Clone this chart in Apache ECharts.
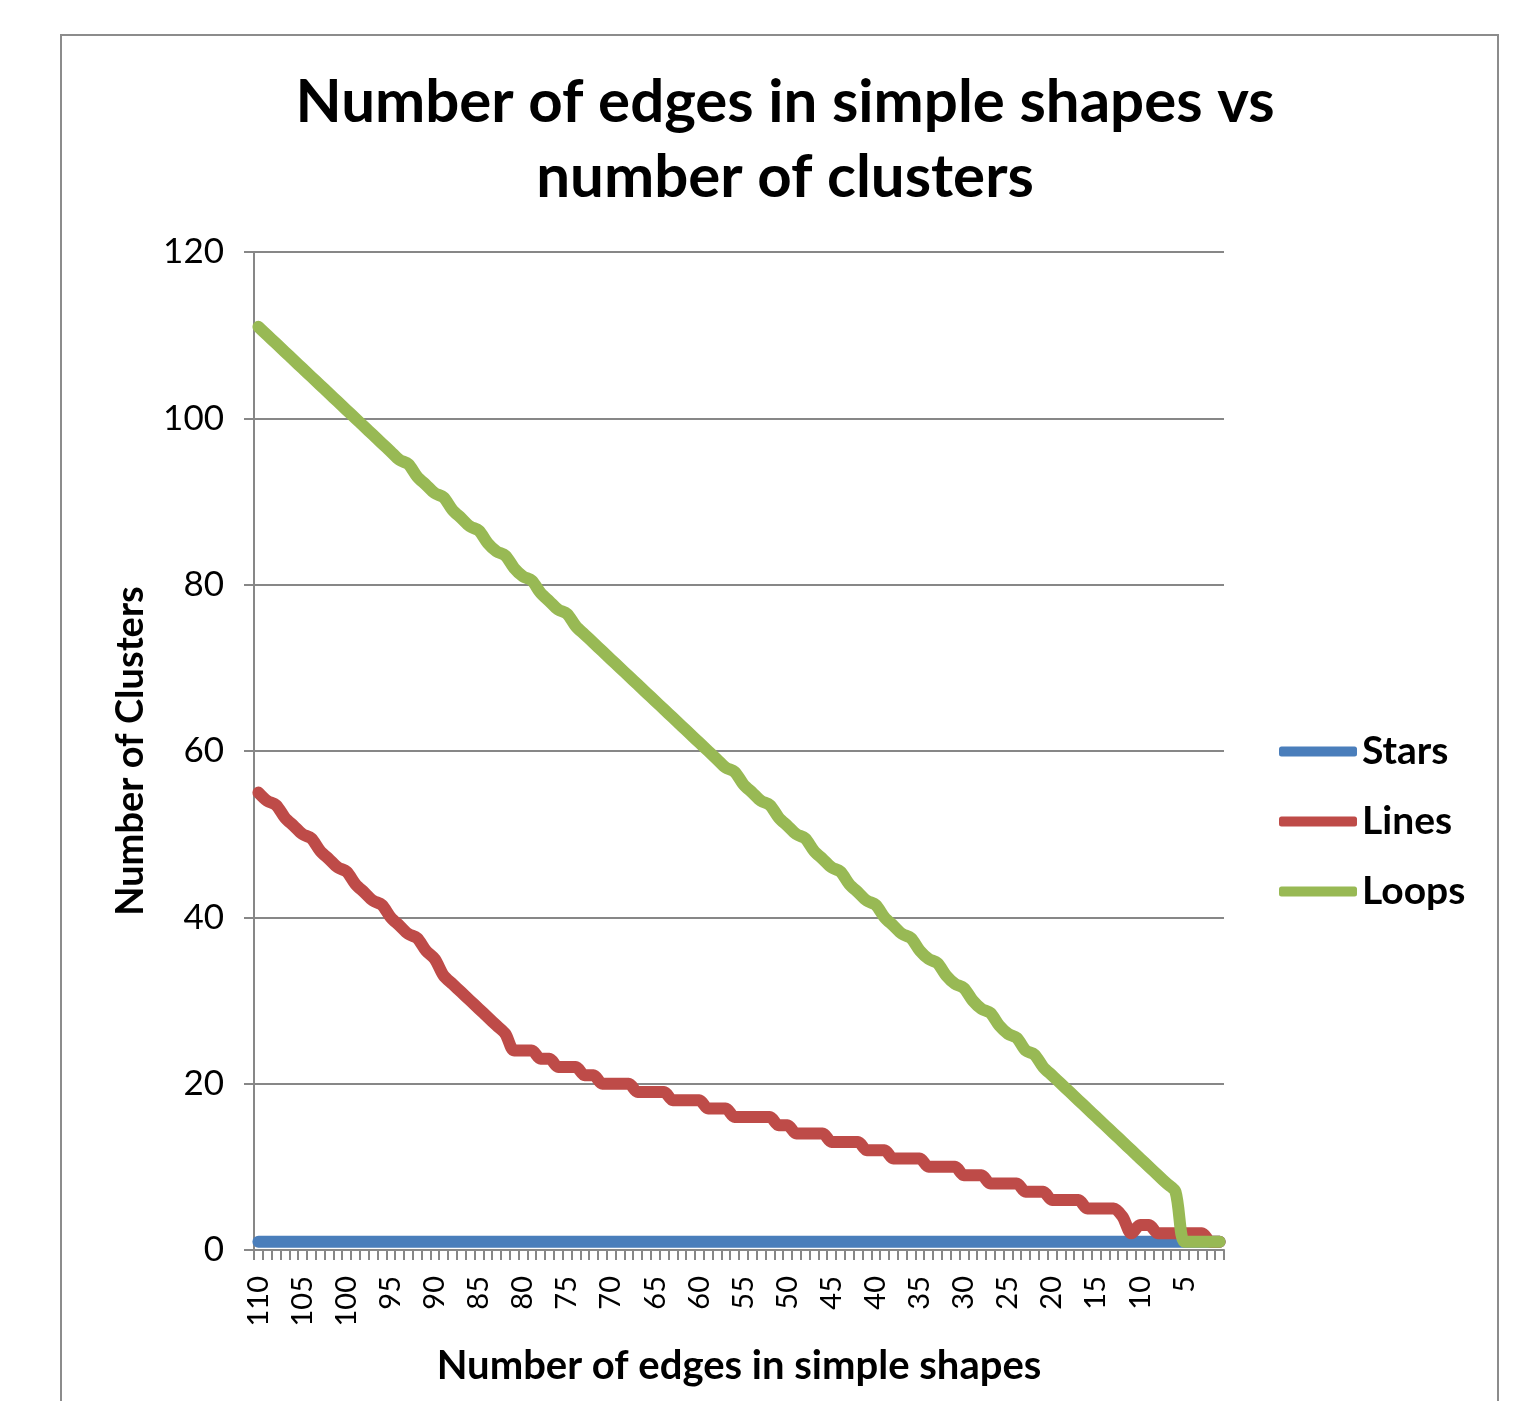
<!DOCTYPE html>
<html>
<head>
<meta charset="utf-8">
<script src="https://cdn.jsdelivr.net/npm/echarts@6/dist/echarts.min.js"></script>
<style>
html,body{margin:0;padding:0;background:#fff;}
#chart{width:1530px;height:1401px;}
</style>
</head>
<body>
<div id="chart"></div>
<script>
// Categories: number of edges in simple shapes (110 down to 1)
const categories = [110,109,108,107,106,105,104,103,102,101,100,99,98,97,96,95,94,93,92,91,90,89,88,87,86,85,84,83,82,81,80,79,78,77,76,75,74,73,72,71,70,69,68,67,66,65,64,63,62,61,60,59,58,57,56,55,54,53,52,51,50,49,48,47,46,45,44,43,42,41,40,39,38,37,36,35,34,33,32,31,30,29,28,27,26,25,24,23,22,21,20,19,18,17,16,15,14,13,12,11,10,9,8,7,6,5,4,3,2,1];

const stars = [1,1,1,1,1,1,1,1,1,1,1,1,1,1,1,1,1,1,1,1,1,1,1,1,1,1,1,1,1,1,1,1,1,1,1,1,1,1,1,1,1,1,1,1,1,1,1,1,1,1,1,1,1,1,1,1,1,1,1,1,1,1,1,1,1,1,1,1,1,1,1,1,1,1,1,1,1,1,1,1,1,1,1,1,1,1,1,1,1,1,1,1,1,1,1,1,1,1,1,1,1,1,1,1,1,1,1,1,1,1];

const lines = [55,54,53.5,52,51,50,49.5,48,47,46,45.5,44,43,42,41.5,40,39,38,37.5,36,35,33,32,31,30,29,28,27,26,24,24,24,23,23,22,22,22,21,21,20,20,20,20,19,19,19,19,18,18,18,18,17,17,17,16,16,16,16,16,15,15,14,14,14,14,13,13,13,13,12,12,12,11,11,11,11,10,10,10,10,9,9,9,8,8,8,8,7,7,7,6,6,6,6,5,5,5,5,4,2,3,3,2,2,2,2,2,2,1,1];

const loops = [111,110,109,108,107,106,105,104,103,102,101,100,99,98,97,96,95,94.5,93,92,91,90.5,89,88,87,86.5,85,84,83.5,82,81,80.5,79,78,77,76.5,75,74,73,72,71,70,69,68,67,66,65,64,63,62,61,60,59,58,57.5,56,55,54,53.5,52,51,50,49.5,48,47,46,45.5,44,43,42,41.5,40,39,38,37.5,36,35,34.5,33,32,31.5,30,29,28.5,27,26,25.5,24,23.5,22,21,20,19,18,17,16,15,14,13,12,11,10,9,8,7,1,1,1,1,1];

const yTicks = [0,20,40,60,80,100,120];

const FONT = 'Lato, "Open Sans", sans-serif';
const GRAY = '#878787';

const chart = echarts.init(document.getElementById('chart'), null, {renderer: 'canvas'});

function legendFor(name, top) {
  return {
    data: [name],
    left: 1274,
    top: top,
    icon: 'roundRect',
    itemWidth: 78,
    itemHeight: 10,
    itemGap: 0,
    selectedMode: false,
    textStyle: {fontFamily: FONT, fontSize: 39, fontWeight: 'bold', color: '#000', padding: [0,0,0,0]}
  };
}

chart.setOption({
  animation: false,
  backgroundColor: '#fff',
  title: {
    text: 'Number of edges in simple shapes vs\nnumber of clusters',
    left: 780,
    top: 60,
    textAlign: 'center',
    textStyle: {fontFamily: FONT, fontSize: 60, fontWeight: 'bold', color: '#000', lineHeight: 75}
  },
  legend: [legendFor('Stars', 727), legendFor('Lines', 797), legendFor('Loops', 867)],
  grid: {left: 254, right: 306, top: 252, bottom: 151, containLabel: false},
  xAxis: {
    type: 'category',
    data: categories,
    boundaryGap: true,
    name: 'Number of edges in simple shapes',
    nameLocation: 'middle',
    nameGap: 96,
    nameTextStyle: {fontFamily: FONT, fontSize: 40, fontWeight: 'bold', color: '#000'},
    axisLine: {lineStyle: {color: GRAY, width: 2}},
    axisTick: {show: true, interval: 0, length: 10, lineStyle: {color: GRAY, width: 2}},
    axisLabel: {interval: 4, rotate: 90, fontFamily: FONT, fontSize: 29, color: '#000', margin: 26},
    splitLine: {show: false}
  },
  yAxis: {
    type: 'value',
    min: 0,
    max: 120,
    interval: 20,
    name: 'Number of Clusters',
    nameLocation: 'middle',
    nameRotate: 90,
    nameGap: 104,
    nameTextStyle: {fontFamily: FONT, fontSize: 38, fontWeight: 'bold', color: '#000'},
    axisLine: {show: true, lineStyle: {color: GRAY, width: 2}},
    axisTick: {show: true, length: 10, lineStyle: {color: GRAY, width: 2}},
    axisLabel: {fontFamily: FONT, fontSize: 35, color: '#000', margin: 30,
      formatter: function (v) { return yTicks.indexOf(v) >= 0 ? String(v) : ''; }},
    splitLine: {show: true, lineStyle: {color: GRAY, width: 2}}
  },
  graphic: [{
    type: 'rect',
    shape: {x: 61, y: 35, width: 1437, height: 1420},
    style: {fill: null, stroke: '#8c8c8c', lineWidth: 2},
    silent: true,
    z: -10
  }],
  series: [
    {name: 'Stars', type: 'line', data: stars, showSymbol: false, symbol: 'none',
     color: '#4a7ebb', lineStyle: {width: 12, color: '#4a7ebb', cap: 'round', join: 'round'}},
    {name: 'Lines', type: 'line', data: lines, showSymbol: false, symbol: 'none', smooth: 0.3,
     color: '#be4b48', lineStyle: {width: 12, color: '#be4b48', cap: 'round', join: 'round'}},
    {name: 'Loops', type: 'line', data: loops, showSymbol: false, symbol: 'none', smooth: 0.3,
     color: '#98b954', lineStyle: {width: 12, color: '#98b954', cap: 'round', join: 'round'}}
  ]
});
</script>
</body>
</html>
